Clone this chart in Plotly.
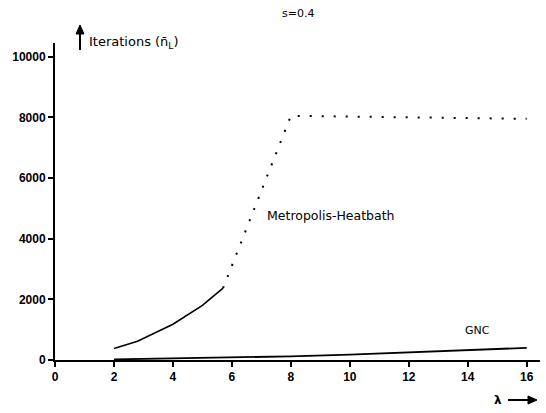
import plotly.graph_objects as go

# Data
mh_solid_x = [2, 2.8, 4, 5, 5.7]
mh_solid_y = [380, 620, 1180, 1800, 2370]
mh_dot_x = [5.7, 8.0, 16.0]
mh_dot_y = [2370, 8050, 7950]
gnc_x = [2, 4, 6, 8, 10, 12, 14, 16]
gnc_y = [20, 50, 80, 120, 180, 250, 320, 400]
x_ticks = [0, 2, 4, 6, 8, 10, 12, 14, 16]
y_ticks = [0, 2000, 4000, 6000, 8000, 10000]

W, H = 546, 413
ML, MR, MT, MB = 55, 6, 43, 53
PW, PH = W - ML - MR, H - MT - MB

def px(xp):
    return (xp - ML) / PW

def py(yp):
    return (H - MB - yp) / PH

fig = go.Figure()
fig.add_trace(go.Scatter(x=mh_solid_x, y=mh_solid_y, mode="lines",
                         line=dict(color="black", width=1.6), showlegend=False))
fig.add_trace(go.Scatter(x=mh_dot_x, y=mh_dot_y, mode="lines",
                         line=dict(color="black", width=2, dash="2px,10px"), showlegend=False))
fig.add_trace(go.Scatter(x=gnc_x, y=gnc_y, mode="lines",
                         line=dict(color="black", width=1.8), showlegend=False))

tickfont = dict(family="Liberation Sans, Arial", size=12, color="black")
fig.update_xaxes(range=[0, 16.45], tickvals=x_ticks, ticktext=[f"<b>{v}</b>" for v in x_ticks],
                 showgrid=False, zeroline=False, showline=True, linecolor="black", linewidth=2,
                 ticks="outside", ticklen=5, tickwidth=1.5, tickcolor="black", tickfont=tickfont)
fig.update_yaxes(range=[0, 10450], tickvals=y_ticks, ticktext=[f"<b>{v}</b>" for v in y_ticks],
                 showgrid=False, zeroline=False, showline=True, linecolor="black", linewidth=2,
                 ticks="outside", ticklen=5, tickwidth=1.5, tickcolor="black", tickfont=tickfont)

anns = [
    dict(x=px(298), y=py(14), text="s=0.4", xanchor="center", yanchor="middle",
         font=dict(family="DejaVu Sans", size=11, color="black")),
    dict(x=px(87), y=py(42), text="Iterations (n̄<sub>L</sub>)", xanchor="left", yanchor="middle",
         font=dict(family="DejaVu Sans", size=13, color="black")),
    dict(x=px(265), y=py(215), text="Metropolis-Heatbath", xanchor="left", yanchor="middle",
         font=dict(family="DejaVu Sans", size=12.5, color="black")),
    dict(x=px(477), y=py(330), text="GNC", xanchor="center", yanchor="middle",
         font=dict(family="DejaVu Sans", size=11, color="black")),
    dict(x=px(498), y=py(400), text="<b>λ</b>", xanchor="center", yanchor="middle",
         font=dict(family="DejaVu Sans", size=12, color="black")),
]
for a in anns:
    a.update(xref="paper", yref="paper", showarrow=False)
    fig.add_annotation(**a)

# arrows drawn as shapes in paper coordinates
def tri(points):
    return "M " + " L ".join(f"{px(a)},{py(b)}" for a, b in points) + " Z"

shapes = [
    dict(type="line", x0=px(80), y0=py(50), x1=px(80), y1=py(32),
         line=dict(color="black", width=2)),
    dict(type="path", path=tri([(76, 34), (84, 34), (80, 25)]),
         fillcolor="black", line=dict(color="black", width=1)),
    dict(type="line", x0=px(508), y0=py(400), x1=px(530), y1=py(400),
         line=dict(color="black", width=2)),
    dict(type="path", path=tri([(528, 396), (528, 404), (537, 400)]),
         fillcolor="black", line=dict(color="black", width=1)),
]
for s in shapes:
    s.update(xref="paper", yref="paper")
    fig.add_shape(**s)

fig.update_layout(width=W, height=H, margin=dict(l=ML, r=MR, t=MT, b=MB),
                  plot_bgcolor="white", paper_bgcolor="white")
fig.write_html("out.html")
